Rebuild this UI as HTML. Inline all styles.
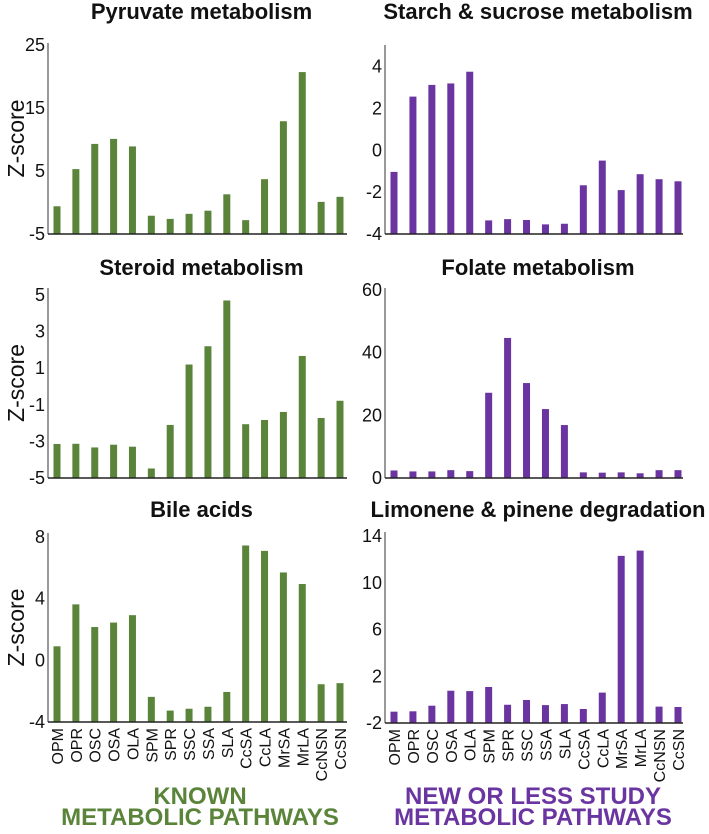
<!DOCTYPE html>
<html><head><meta charset="utf-8"><style>
body{margin:0;background:#fff;width:709px;height:829px;overflow:hidden;font-family:"Liberation Sans",Arial,sans-serif}
</style></head><body>
<svg id="fig" width="709" height="829" xmlns="http://www.w3.org/2000/svg" font-family="Liberation Sans, Arial, sans-serif"></svg>
<script>
const categories=["OPM","OPR","OSC","OSA","OLA","SPM","SPR","SSC","SSA","SLA","CcSA","CcLA","MrSA","MrLA","CcNSN","CcSN"];
const pyruvateValues=[-0.6,5.3,9.3,10.1,8.9,-2.1,-2.6,-1.8,-1.3,1.3,-2.8,3.7,12.9,20.7,0.1,0.9];
const starchValues=[-1.03,2.57,3.13,3.2,3.76,-3.35,-3.29,-3.33,-3.54,-3.51,-1.67,-0.49,-1.9,-1.14,-1.38,-1.48];
const steroidValues=[-3.14,-3.13,-3.33,-3.18,-3.29,-4.48,-2.1,1.2,2.2,4.7,-2.06,-1.83,-1.39,1.67,-1.72,-0.78];
const folateValues=[2.4,2.1,2.1,2.5,2.2,27.2,44.7,30.3,22,16.9,1.8,1.7,1.8,1.5,2.5,2.5];
const bileValues=[0.91,3.63,2.16,2.45,2.93,-2.37,-3.26,-3.14,-3.01,-2.05,7.45,7.1,5.7,4.95,-1.55,-1.48];
const limoneneValues=[-1.03,-1.0,-0.52,0.76,0.73,1.08,-0.44,-0.03,-0.47,-0.38,-0.8,0.6,12.3,12.75,-0.6,-0.63];
const pyruvateTicks=[25,15,5,-5];
const starchTicks=[4,2,0,-2,-4];
const steroidTicks=[5,3,1,-1,-3,-5];
const folateTicks=[60,40,20,0];
const bileTicks=[8,4,0,-4];
const limoneneTicks=[14,10,6,2,-2];

const NS="http://www.w3.org/2000/svg";
const svg=document.getElementById('fig');
function mk(tag,attrs,parent){const e=document.createElementNS(NS,tag);for(const k in attrs)e.setAttribute(k,attrs[k]);(parent||svg).appendChild(e);return e;}
const GREEN="#5a843a",PURPLE="#6a35a0";
const charts=[
 {id:"pyruvate",title:"Pyruvate metabolism",vals:pyruvateValues,ticks:pyruvateTicks,d0:-5,d1:25,p0:234,p1:45,top:43,left:true,color:GREEN,ty:19,xl:false},
 {id:"starch",title:"Starch & sucrose metabolism",vals:starchValues,ticks:starchTicks,d0:-4,d1:4,p0:234,p1:66.7,top:45,left:false,color:PURPLE,ty:19,xl:false},
 {id:"steroid",title:"Steroid metabolism",vals:steroidValues,ticks:steroidTicks,d0:-5,d1:5,p0:478,p1:295,top:288,left:true,color:GREEN,ty:275,xl:false},
 {id:"folate",title:"Folate metabolism",vals:folateValues,ticks:folateTicks,d0:0,d1:60,p0:478,p1:290,top:288,left:false,color:PURPLE,ty:275,xl:false},
 {id:"bile",title:"Bile acids",vals:bileValues,ticks:bileTicks,d0:-4,d1:8,p0:722,p1:537,top:533,left:true,color:GREEN,ty:517,xl:true},
 {id:"limonene",title:"Limonene & pinene degradation",vals:limoneneValues,ticks:limoneneTicks,d0:-2,d1:14,p0:723,p1:536,top:532,left:false,color:PURPLE,ty:517,xl:true}
];
charts.forEach(c=>{
 const g=mk('g',{});
 
 
 const ax=c.left?48:385, axEnd=c.left?347:683;
 const x0=c.left?57:394, x1=c.left?340:678;
 const step=(x1-x0)/(categories.length-1);
 const y=v=>c.p0+(v-c.d0)*(c.p1-c.p0)/(c.d1-c.d0);
 const xs=i=>x0+i*step;
 const t=mk('text',{x:(ax+axEnd)/2+4,y:c.ty,'text-anchor':'middle','font-size':22,'font-weight':'bold',fill:'#111'},g);
 t.textContent=c.title;
 
 
 c.vals.forEach((v,i)=>{
  const base=c.p0, yt=y(v);
  const r=mk('rect',{x:xs(i)-3.5,y:Math.min(base,yt),width:7,height:Math.abs(base-yt),fill:c.color},g);
  
  
 });
 const ya=mk('line',{x1:ax,y1:c.top,x2:ax,y2:c.p0,stroke:'#333','stroke-width':1},g);
 
 
 const xa=mk('line',{x1:ax,y1:c.p0,x2:axEnd,y2:c.p0,stroke:'#222','stroke-width':1.5},g);
 
 
 c.ticks.forEach(tv=>{
  const tl=mk('text',{x:ax-3,y:y(tv)+6,'text-anchor':'end','font-size':18,fill:'#111'},g);
  tl.textContent=tv;
  
  
 });
 if(c.left){
  const zl=mk('text',{x:0,y:0,'text-anchor':'middle','font-size':23,fill:'#111',transform:`translate(24,${(c.top+c.p0)/2}) rotate(-90)`},g);
  zl.textContent='Z-score';
  
  
 }
 if(c.xl){
  categories.forEach((cat,i)=>{
   const xl=mk('text',{x:0,y:0,'text-anchor':'end','font-size':16,fill:'#111',transform:`translate(${xs(i)+6},${c.p0+6}) rotate(-90)`},g);
   xl.textContent=cat;
   
   
  });
 }
});
[["KNOWN",200,804,GREEN,"known-label-line1"],["METABOLIC PATHWAYS",200,825,GREEN,"known-label-line2"],["NEW OR LESS STUDY",533,804,PURPLE,"new-label-line1"],["METABOLIC PATHWAYS",533,825,PURPLE,"new-label-line2"]].forEach(a=>{
 const e=mk('text',{x:a[1],y:a[2],'text-anchor':'middle','font-size':24,'font-weight':'bold',fill:a[3]});
 e.textContent=a[0];
 
 
});
</script>
</body></html>
